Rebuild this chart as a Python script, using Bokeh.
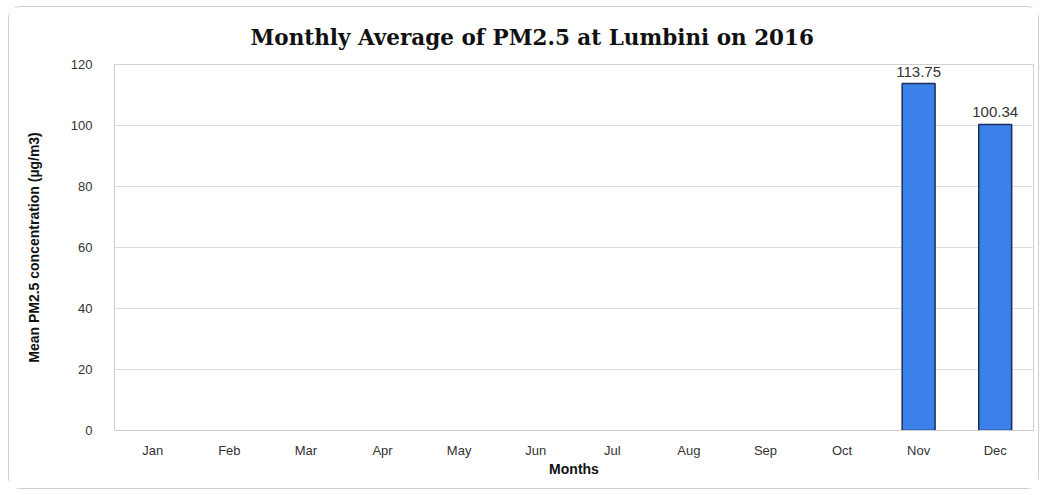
import numpy as np
from bokeh.plotting import figure
from bokeh.models import ColumnDataSource, LabelSet, FactorRange, SingleIntervalTicker
from bokeh.core.properties import value
from bokeh.embed import file_html
from bokeh.resources import INLINE

title_text = "Monthly Average of PM2.5 at Lumbini on 2016"
months = ["Jan", "Feb", "Mar", "Apr", "May", "Jun", "Jul", "Aug", "Sep", "Oct", "Nov", "Dec"]
pm25 = [None, None, None, None, None, None, None, None, None, None, 113.75, 100.34]
labels = ["" if v is None else f"{v:.2f}" for v in pm25]

vals = np.array([np.nan if v is None else v for v in pm25], dtype=float)
src = ColumnDataSource(data=dict(months=months, pm25=vals, lab=labels))

p = figure(x_range=FactorRange(*months), y_range=(0, 120),
           width=1031, height=483, output_backend="svg", toolbar_location=None,
           min_border_left=105, min_border_right=7, min_border_top=57, min_border_bottom=60)
p.styles = {"border": "1px solid #cfcfcf", "border-radius": "12px",
            "margin-left": "8px", "margin-top": "6px"}

p.title.text = title_text
p.title.text_font = "DejaVu Serif"
p.title.text_font_size = "21.5px"
p.title.text_font_style = "bold"
p.title.text_color = "#111111"
p.title.align = "left"
p.title.offset = 136
p.title.standoff = 30

p.vbar(x="months", top="pm25", width=0.43, source=src,
       fill_color="#3C80EA", line_color="#1C2E5A", line_width=1.5)

p.add_layout(LabelSet(x="months", y="pm25", text="lab", source=src,
                      text_align="center", text_baseline="bottom", y_offset=7,
                      text_font=value("Liberation Sans"), text_font_size="15px",
                      text_color="#333333"))

p.yaxis.ticker = SingleIntervalTicker(interval=20)
p.xaxis.axis_label = "Months"
p.yaxis.axis_label = "Mean PM2.5 concentration (µg/m3)"
for ax in (p.xaxis, p.yaxis):
    ax.axis_label_text_font = "Liberation Sans"
    ax.axis_label_text_font_style = "bold"
    ax.axis_label_text_color = "#111111"
    ax.major_label_text_font = "Liberation Sans"
    ax.major_label_text_font_size = "13px"
    ax.major_label_text_color = "#333333"
    ax.major_tick_line_color = None
    ax.minor_tick_line_color = None
    ax.axis_line_color = "#cccccc"
p.xaxis.axis_label_text_font_size = "14px"
p.yaxis.axis_label_text_font_size = "14px"
p.xaxis.major_label_standoff = 6
p.yaxis.major_label_standoff = 16
p.xaxis.axis_label_standoff = 0
p.yaxis.axis_label_standoff = 26

p.xgrid.grid_line_color = None
p.ygrid.grid_line_color = "#dddddd"
p.outline_line_color = "#d0d0d0"

open("out.html", "w").write(file_html(p, INLINE))
